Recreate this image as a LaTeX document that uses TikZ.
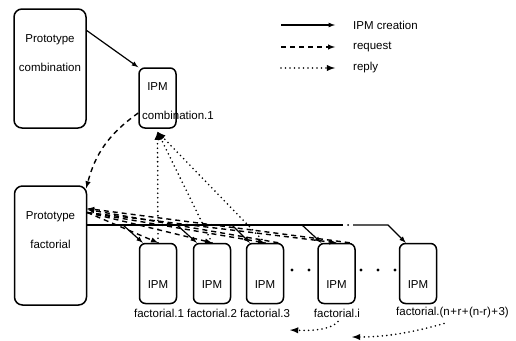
\documentclass[tikz,border=0pt]{standalone}
\usepackage{fontspec}
\setmainfont{Liberation Sans}

\begin{document}
\begin{tikzpicture}[x=1pt,y=-1pt,
font=\fontsize{11.5}{13}\selectfont,
proto/.style={%
draw,
line width=1.5pt,
rounded corners=8pt,
minimum width=72,
minimum height=119,
},
ipm/.style={%
draw,
line width=1.5pt,
rounded corners=6pt,
minimum width=37,
minimum height=60,
},
txt/.style={%
inner sep=0pt,
},
create/.style={%
-{latex},
line width=1.2pt,
},
request/.style={%
-{latex},
line width=1.4pt,
dash pattern=on 5pt off 4pt,
},
reply/.style={%
-{latex},
line width=1.8pt,
line cap=round,
dash pattern=on 0pt off 4.5pt,
},
]
\useasboundingbox (0,0) rectangle (516,340);
%% Prototypes
\node[proto](pcomb)at(50,68.5){};
\node[txt](pcombA)at(50,40){Prototype};
\node[txt](pcombB)at(50,67){combination};
\node[proto](pfact)at(50.5,245.5){};
\node[txt](pfactA)at(50.5,217){Prototype};
\node[txt](pfactB)at(50.5,244){factorial};
%% IPM combination
\node[ipm](ipmc)at(157.5,98){};
\node[txt](ipmcA)at(157.5,87){IPM};
\node[txt,anchor=west](ipmcB)at(142,115){combination.1};
\draw[create]([yshift=38pt]pcomb.east)--(ipmc.north west);
%% Legend
\foreach \s/\y/\t [count=\i] in {create/25/IPM creation,request/47/request,reply/68/reply}{%
\coordinate(k\i a)at(281,\y);
\coordinate(k\i b)at(335,\y);
\draw[\s](k\i a)--(k\i b);
\node[txt,anchor=west](k\i t)at(353,\y){\t};
}
%% IPM factorials
\foreach \n/\x in {1/158,2/212,3/265,i/336.5,N/418}{%
\node[ipm](f\n)at(\x,273.5){};
\node[txt](f\n t)at(\x,285){IPM};
}
\node[txt](l1)at(159,313){factorial.1};
\node[txt](l2)at(212,313){factorial.2};
\node[txt](l3)at(265,313){factorial.3};
\node[txt](li)at(337,313){factorial.i};
\node[txt,anchor=west](lN)at(396,313){factorial.(n\kern.5pt+\kern.5pt r\kern.5pt+\kern.5pt(n-r)\kern.5pt+\kern.5pt3)};
\foreach \x in {292,309,361,378,395}{%
\fill(\x,270)circle(1.6pt);
}
%% Creation
\coordinate(b0)at(pfact.east |- 0,225);
\coordinate(b1)at(123,225);
\coordinate(b2)at(177,225);
\coordinate(b3)at(232,225);
\coordinate(bi)at(302,225);
\coordinate(gA)at(343,225);
\coordinate(gB)at(353,225);
\coordinate(bN)at(388,225);
\draw[line width=1.2pt](b0)--(gA);
\fill(348,225)circle(1pt);
\draw[create](gB)--(bN)--([xshift=7pt]fN.north west);
\foreach \n in {1,2,3,i}{%
\draw[create](b\n)--([xshift=4pt]f\n.north west);
}
%% Requests
\draw[request]([yshift=-15pt]ipmc.west) to[bend right=20] ([xshift=-1pt,yshift=-3pt]pfact.north east);
\foreach \n in {1,2,3,i}{%
\draw[request]([yshift=33pt]pfact.east)--(f\n.north);
}
\draw[request]([xshift=-6pt]f3.north east)--([yshift=36pt]pfact.east);
\draw[request]([xshift=-6pt]fi.north east)--([yshift=37pt]pfact.east);
%% Replies
\foreach \n in {1,2,3}{%
\draw[reply](f\n.north)--([yshift=-3pt]ipmc.south);
}
\coordinate(ri)at(290,330);
\coordinate(rN)at(352,337);
\draw[reply]([xshift=1pt,yshift=-4pt]li.south) .. controls (332,329) and (315,331) .. (ri);
\draw[reply]([xshift=26pt,yshift=-5pt]fN.south |- lN.south) .. controls (410,333) and (385,337) .. (rN);
\end{tikzpicture}
\end{document}
